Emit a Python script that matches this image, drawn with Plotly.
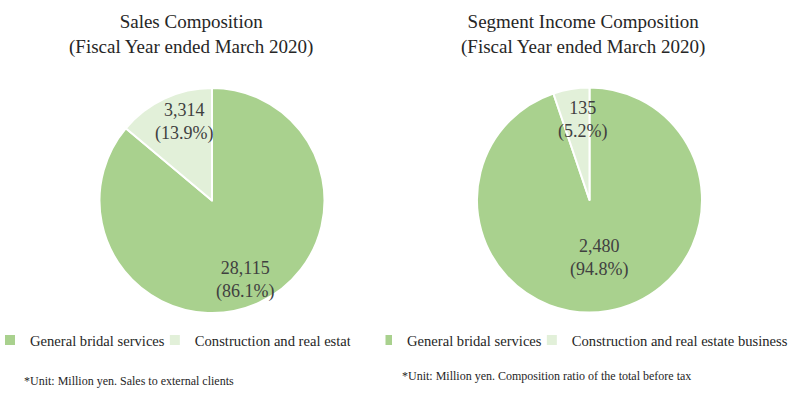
import math
import plotly.graph_objects as go

categories = ["General bridal services", "Construction and real estate business"]
sales_values = [28115, 3314]
sales_share = [86.1, 13.9]
income_values = [2480, 135]
income_share = [94.8, 5.2]
colors = ["#A9D18E", "#E2F0D9"]
titles = ["Sales Composition<br>(Fiscal Year ended March 2020)",
          "Segment Income Composition<br>(Fiscal Year ended March 2020)"]
notes = ["*Unit: Million yen. Sales to external clients",
         "*Unit: Million yen. Composition ratio of the total before tax"]

W, H = 803, 396
FONT = "Liberation Serif, Times New Roman, serif"
TXT = "#404040"
DARK = "#262626"

# pie geometry (pixels): centre x, centre y, radius; label radius fraction and x nudge
pies = [
    dict(cx=212, cy=200.5, r=112.5, values=sales_values, share=sales_share,
         legend="legend", lr=[0.78, 0.77], dx=[-4, 9], suffix=""),
    dict(cx=589.5, cy=200, r=112.5, values=income_values, share=income_share,
         legend="legend2", lr=[0.52, 0.72], dx=[0, 6], suffix="\u200b"),
]

fig = go.Figure()
annotations = []
for p in pies:
    fig.add_trace(go.Pie(
        labels=[c + p["suffix"] for c in categories], values=p["share"],
        customdata=p["values"], sort=False, direction="clockwise", rotation=0,
        marker=dict(colors=colors, line=dict(color="white", width=2)),
        textinfo="none",
        domain=dict(x=[(p["cx"] - p["r"]) / W, (p["cx"] + p["r"]) / W],
                    y=[(H - p["cy"] - p["r"]) / H, (H - p["cy"] + p["r"]) / H]),
        legend=p["legend"],
        hovertemplate="%{label}<br>%{customdata:,}<br>%{value:.1f}%<extra></extra>",
    ))
    total = sum(p["share"])
    start = 0.0
    for v, s, f, dx in zip(p["values"], p["share"], p["lr"], p["dx"]):
        mid = (start + s / 2) / total * 2 * math.pi
        start += s
        px = p["cx"] + p["r"] * f * math.sin(mid) + dx
        py = p["cy"] - p["r"] * f * math.cos(mid)
        annotations.append(dict(
            text=f"{v:,}<br>({s:.1f}%)", x=px / W, y=(H - py) / H,
            xref="paper", yref="paper", xanchor="center", yanchor="middle",
            showarrow=False, font=dict(family=FONT, size=18, color=TXT)))

for tx, t in zip([191, 583], titles):
    annotations.append(dict(text=t, x=tx / W, y=(H - 34) / H, xref="paper", yref="paper",
                            xanchor="center", yanchor="middle", showarrow=False,
                            font=dict(family=FONT, size=19, color=DARK)))
for (nx, ny), t in zip([(22, 381), (400, 376)], notes):
    annotations.append(dict(text=t, x=nx / W, y=(H - ny) / H, xref="paper", yref="paper",
                            xanchor="left", yanchor="middle", showarrow=False,
                            font=dict(family=FONT, size=12, color=DARK)))

# white mask that cuts the left legend's overflowing label, as in the source image
annotations.append(dict(text=" ", x=350 / W, y=(H - 340) / H, xref="paper", yref="paper",
                        xanchor="left", yanchor="middle", showarrow=False,
                        width=32, height=22, bgcolor="white", font=dict(size=12)))

legend_common = dict(orientation="h", font=dict(family=FONT, size=14.6, color=DARK),
                     xanchor="left", yanchor="middle",
                     xref="paper", yref="paper", indentation=-15,
                     traceorder="normal")
fig.update_layout(
    width=W, height=H, margin=dict(l=0, r=0, t=0, b=0, autoexpand=False),
    paper_bgcolor="white", plot_bgcolor="white",
    font=dict(family=FONT, color=TXT),
    legend=dict(x=5 / W, y=(H - 340) / H, bgcolor="rgba(0,0,0,0)", **legend_common),
    legend2=dict(x=382 / W, y=(H - 340) / H, bgcolor="white", **legend_common),
    annotations=annotations,
)
fig.write_html("out.html", post_script="document.body.style.margin='0';",
               config=dict(displayModeBar=False))
